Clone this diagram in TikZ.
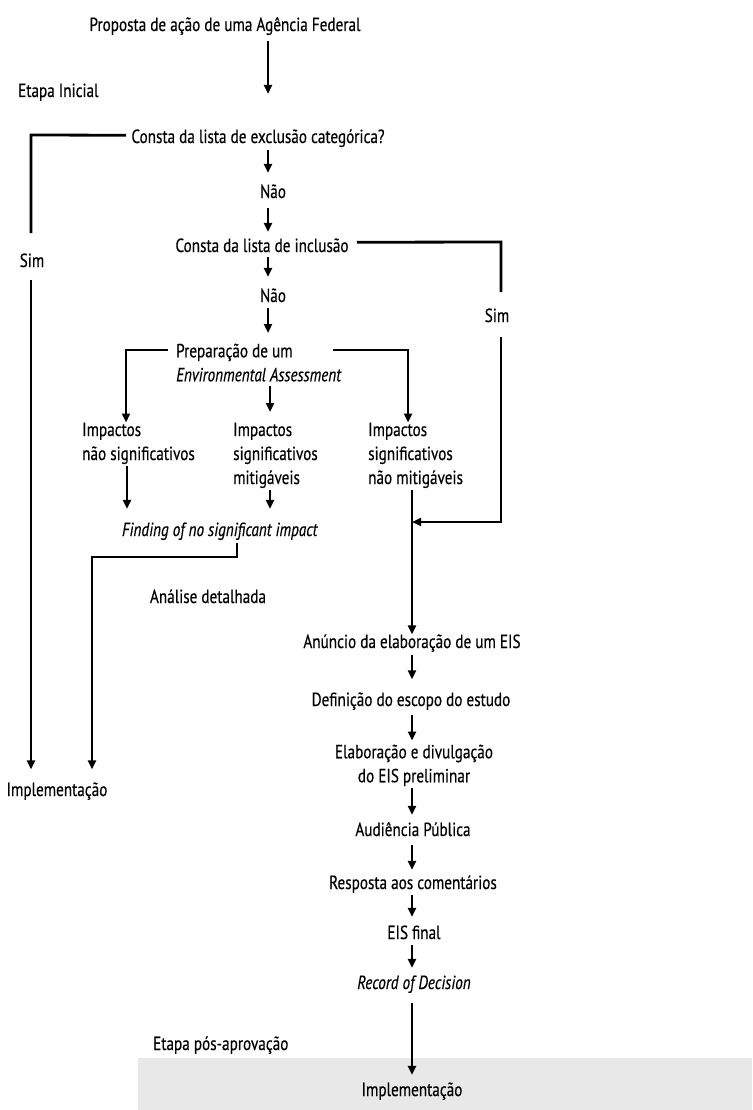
\documentclass[tikz,border=0pt]{standalone}
\usepackage{fontspec}
\setmainfont{PT Sans}[FakeStretch=0.8, FakeBold=0.4]
\usetikzlibrary{arrows.meta}
\begin{document}
\begin{tikzpicture}[x=1pt,y=-1pt,
  txt/.style={inner sep=0pt, anchor=base, text height=13.5pt, text depth=4pt,
    font=\fontsize{19}{24}\selectfont},
  mtxt/.style={inner sep=0pt, font=\fontsize{19}{24}\selectfont},
  ln/.style={line width=2.8pt},
  arr/.style={line width=2.8pt, -{Triangle[width=8pt,length=9pt]}},
  band/.style={fill=black!9, draw=none}
]
\useasboundingbox (0,0) rectangle (752,1110);
\fill[band] (138,1058) rectangle (752,1110);

% columns
\coordinate (cA) at (268,0);
\coordinate (cM) at (270,0);
\coordinate (cR) at (412,0);
\coordinate (cL) at (31,0);

% nodes
\node[txt] (prop) at (225,31) {Proposta de ação de uma Agência Federal};
\node[txt, anchor=base west] (etapa1) at (18,97) {Etapa Inicial};
\node[txt] (excl) at (258,143) {Consta da lista de exclusão categórica?};
\node[txt] (nao1) at (273,198) {Não};
\node[txt] (incl) at (262,252) {Consta da lista de inclusão};
\node[txt] (nao2) at (273,302) {Não};
\node[txt] (sim1) at (32,267) {Sim};
\node[txt] (sim2) at (497,322) {Sim};
\node[mtxt, align=left, anchor=north west] (prep) at (176,343.5)
  {Preparação de um\\\textit{Environmental Assessment}};
\node[mtxt, align=left, anchor=north west] (imp1) at (82,422.5)
  {Impactos\\não significativos};
\node[mtxt, align=left, anchor=north west] (imp2) at (233,422.5)
  {Impactos\\significativos\\mitigáveis};
\node[mtxt, align=left, anchor=north west] (imp3) at (368,422.5)
  {Impactos\\significativos\\não mitigáveis};
\node[txt] (fonsi) at (220,536) {\textit{Finding of no significant impact}};
\node[txt] (analise) at (208,603) {Análise detalhada};
\node[txt] (impl1) at (57,796) {Implementação};
\node[txt] (anun) at (412,648) {Anúncio da elaboração de um EIS};
\node[txt] (defin) at (411,706) {Definição do escopo do estudo};
\node[mtxt, align=center, anchor=north] (elab) at (414,744.5)
  {Elaboração e divulgação\\do EIS preliminar};
\node[txt] (aud) at (413,836) {Audiência Pública};
\node[txt] (resp) at (413,889) {Resposta aos comentários};
\node[txt] (eisf) at (414,939) {EIS final};
\node[txt] (rod) at (414,989) {\textit{Record of Decision}};
\node[txt, anchor=base west] (etapa2) at (153,1050) {Etapa pós-aprovação};
\node[txt] (impl2) at (412,1096) {Implementação};

% corner / free-end coordinates
\coordinate (a1end) at (268,94);
\coordinate (exclL) at (31,135);
\coordinate (inclR) at (501,242);
\coordinate (joinR) at (412,522);
\coordinate (prepL) at (126,350);
\coordinate (prepR) at (408,350);
\coordinate (prepRs) at (333,350);
\coordinate (fonsiD) at (237,557);
\coordinate (cF) at (92,0);

% main column
\draw[arr, shorten <=6pt] (prop.south -| cA) -- (a1end);
\draw[arr, shorten <=3pt, shorten >=11.5pt] (excl.south -| cA) -- (nao1.north -| cA);
\draw[arr, shorten <=6pt, shorten >=6.5pt] (nao1.south -| cA) -- (incl.north -| cA);
\draw[arr, shorten <=1pt, shorten >=11.5pt] (incl.south -| cA) -- (nao2.north -| cA);
\draw[arr, shorten <=2pt, shorten >=10.5pt] (nao2.south -| cA) -- (prep.north -| cA);

% left "Sim" branch
\draw[ln] ([xshift=-5pt,yshift=3pt]excl.west) -- (exclL) -- ++(0,98);
\draw[arr, shorten <=9pt, shorten >=13pt] (sim1.south -| cL) -- (impl1.north -| cL);

% right "Sim" branch
\draw[ln] ([xshift=8pt,yshift=5pt]incl.east) -- (inclR) -- ++(0,50);
\draw[arr, shorten <=11pt] (sim2.south -| inclR) |- (joinR);

% EA branches
\draw[arr] ([xshift=-8pt]prep.north west |- prepL) -- (prepL) -- (imp1.north -| prepL) ;
\draw[arr] (prepRs) -- (prepR) -- (imp3.north -| prepR);
\draw[arr, shorten <=4pt, shorten >=10.5pt] (prep.south -| cM) -- (imp2.north -| cM);

% to FONSI
\draw[arr, shorten <=2pt, shorten >=13.5pt] (imp1.south -| 127,0) -- (fonsi.north -| 127,0);
\draw[arr, shorten <=2pt, shorten >=13.5pt] (imp2.south -| cM) -- (fonsi.north -| cM);
\draw[arr, shorten >=13pt] ([yshift=-3pt]fonsi.south -| fonsiD) -- (fonsiD) -| (impl1.north -| cF);

% EIS column
\draw[arr, shorten <=2pt] (imp3.south -| cR) -- (anun.north -| cR);
\draw[arr, shorten <=3pt, shorten >=13pt] (anun.south -| cR) -- (defin.north -| cR);
\draw[arr, shorten <=5pt, shorten >=4pt] (defin.south -| cR) -- (elab.north -| cR);
\draw[arr, shorten <=2pt, shorten >=7.5pt] (elab.south -| cR) -- (aud.north -| cR);
\draw[arr, shorten <=5pt, shorten >=5.5pt] (aud.south -| cR) -- (resp.north -| cR);
\draw[arr, shorten <=2pt, shorten >=8.5pt] (resp.south -| cR) -- (eisf.north -| cR);
\draw[arr, shorten <=2pt, shorten >=7.5pt] (eisf.south -| cR) -- (rod.north -| cR);
\draw[arr, shorten <=10pt, shorten >=7.5pt] (rod.south -| cR) -- (impl2.north -| cR);
\end{tikzpicture}
\end{document}
